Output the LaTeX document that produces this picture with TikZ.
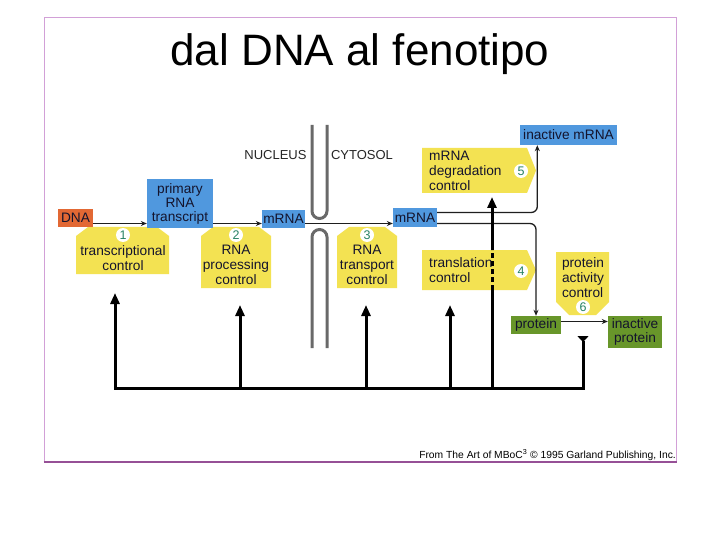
\documentclass[tikz,border=0pt]{standalone}
\usepackage{fontspec}
\setmainfont{Liberation Sans}
\usetikzlibrary{arrows.meta,calc}
\definecolor{yelC}{RGB}{243,226,82}
\definecolor{bluC}{RGB}{80,152,222}
\definecolor{dnaC}{RGB}{226,104,52}
\definecolor{grnC}{RGB}{104,150,42}
\definecolor{txtC}{RGB}{20,20,45}
\definecolor{numC}{RGB}{40,130,100}
\definecolor{memC}{RGB}{105,105,105}
\definecolor{flowC}{RGB}{30,30,30}
\definecolor{frameC}{RGB}{210,160,215}
\definecolor{frameB}{RGB}{150,80,150}
\begin{document}
\begin{tikzpicture}[x=1pt,y=-1pt,
  box/.style={inner sep=0pt, text=txtC, font=\fontsize{13.7}{14}\selectfont, align=center},
  blubox/.style={box, fill=bluC},
  grnbox/.style={box, fill=grnC},
  ylab/.style={inner sep=0pt, text=txtC, font=\fontsize{13.7}{15}\selectfont},
  yshape/.style={fill=yelC},
  num/.style={circle, fill=white, inner sep=0pt, minimum size=14pt, text=numC, font=\fontsize{12.5}{12.5}\selectfont},
  flow/.style={line width=1.3pt, draw=flowC, -{Stealth[length=6pt,width=5pt]}},
  fb/.style={line width=3pt, draw=black},
  fbarrow/.style={fb, -{Triangle[length=11pt,width=9pt]}},
  mem/.style={line width=3pt, draw=memC},
  side/.style={inner sep=0pt, font=\fontsize{13}{13}\selectfont, text=black!85}
]
\useasboundingbox (0,0) rectangle (720,540);
\fill[white] (0,0) rectangle (720,540);
% frame
\draw[frameC, line width=1pt] (44,462) -- (44,18) -- (676,18) -- (676,462);
\draw[frameB, line width=1.8pt] (43.5,462) -- (676.5,462);
% title
\node[inner sep=0pt, font=\fontsize{44}{44}\selectfont] (title) at (360,54) {dal DNA al fenotipo};

% nuclear membrane
\draw[mem] (312,125) -- (312,211) arc[start angle=180, end angle=0, radius=7.5] -- (327,125);
\draw[mem] (312,348) -- (312,237) arc[start angle=180, end angle=360, radius=7.5] -- (327,348);
\node[side] (nuc) at (275.5,155) {NUCLEUS};
\node[side] (cyt) at (362,155) {CYTOSOL};

% yellow shapes
\fill[yshape] (76,274) -- (76,236) -- (88,227) -- (157,227) -- (169,236) -- (169,274) -- cycle;
\fill[yshape] (201,288) -- (201,236) -- (213,227) -- (259,227) -- (271,236) -- (271,288) -- cycle;
\fill[yshape] (337,288) -- (337,236) -- (349,227) -- (385,227) -- (397,236) -- (397,288) -- cycle;
\fill[yshape] (422,148) -- (527,148) -- (536,170.5) -- (527,193) -- (422,193) -- cycle;
\fill[yshape] (422,250) -- (527,250) -- (536,270) -- (527,290) -- (422,290) -- cycle;
\fill[yshape] (556,252) -- (609,252) -- (609,302) -- (596,315) -- (569,315) -- (556,302) -- cycle;

\node[ylab, align=center] (p1) at (123,258) {transcriptional\\control};
\node[ylab, align=center] (p2) at (236,265) {RNA\\processing\\control};
\node[ylab, align=center] (p3) at (367,265) {RNA\\transport\\control};
\node[ylab, align=left, anchor=west] (p5) at (429,171) {mRNA\\degradation\\control};
\node[ylab, align=left, anchor=west] (p4) at (429,270.5) {translation\\control};
\node[ylab, align=left] (p6) at (583,278) {protein\\activity\\control};

\node[num] (n1) at (123,235) {1};
\node[num] (n2) at (236,235) {2};
\node[num] (n3) at (367,235) {3};
\node[num] (n5) at (521,171) {5};
\node[num] (n4) at (521,271) {4};
\node[num] (n6) at (583,307) {6};

% boxes
\node[box, fill=dnaC, minimum width=35pt, minimum height=18pt] (dna) at (75.5,218) {DNA};
\node[blubox, minimum width=66pt, minimum height=49pt] (prim) at (180,203.5) {primary\\RNA\\transcript};
\node[blubox, minimum width=43pt, minimum height=18pt] (m1) at (283.5,219) {mRNA};
\node[blubox, minimum width=44pt, minimum height=19pt] (m2) at (415,217.5) {mRNA};
\node[blubox, minimum width=97pt, minimum height=20pt] (im) at (568.5,135) {inactive mRNA};
\node[grnbox, minimum width=50pt, minimum height=18pt] (prot) at (536,325) {protein};
\node[grnbox, minimum width=54pt, minimum height=32pt] (ip) at (635,332) {inactive\\protein};

% flow arrows
\coordinate (y223) at (0,223.5);
\coordinate (y212) at (0,212.5);
\coordinate (y321) at (0,321.5);
\draw[flow] (dna.east |- y223) -- (prim.west |- y223);
\draw[flow] (prim.east |- y223) -- (m1.west |- y223);
\draw[flow] (m1.east |- y223) -- (m2.west |- y223);
\draw[flow, rounded corners=6pt] (m2.east |- y212) -| ($(im.south west)+(17.5,0)$);
\draw[flow, rounded corners=6pt] (m2.east |- y223) -| (prot.north);
\draw[flow] (prot.east |- y321) -- (ip.west |- y321);

% feedback lines
\coordinate (b1) at (115,388); \coordinate (t1) at (115,293);
\coordinate (b2) at (240,388); \coordinate (t2) at (240,305);
\coordinate (b3) at (366,388); \coordinate (t3) at (366,305);
\coordinate (b4) at (450,388); \coordinate (t4) at (450,305);
\coordinate (b5) at (492,388); \coordinate (t5) at (492,197);
\coordinate (b6) at (583,388); \coordinate (t6) at (583,336);
\coordinate (d1) at (492,290); \coordinate (d2) at (492,250);
\draw[fb, line join=miter, {Triangle[length=11pt,width=9pt]}-{Triangle[reversed,length=6pt,width=11pt]}] (t1) -- (b1) -- (b6) -- (t6);
\draw[fbarrow] (b2) -- (t2);
\draw[fbarrow] (b3) -- (t3);
\draw[fbarrow] (b4) -- (t4);
\draw[fb] (b5) -- (d1);
\draw[fb, dash pattern=on 5pt off 3pt] (d1) -- (d2);
\draw[fbarrow] (d2) -- (t5);

% footer
\node[inner sep=0pt, anchor=east, font=\fontsize{10.3}{10.3}\selectfont] (foot) at (676,455) {From The Art of MBoC\textsuperscript{3} © 1995 Garland Publishing, Inc.};
\end{tikzpicture}
\end{document}
